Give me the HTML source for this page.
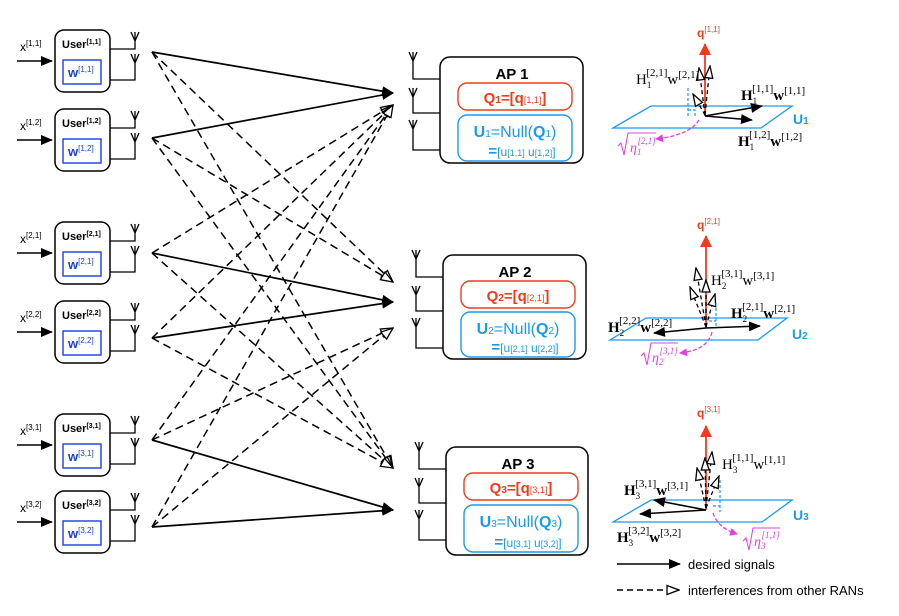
<!DOCTYPE html>
<html><head><meta charset="utf-8"><style>
body{margin:0;background:#fff}
svg{display:block;font-family:"Liberation Sans",sans-serif}
.b{font-weight:bold}
</style></head><body>
<svg width="899" height="616" viewBox="0 0 899 616" xmlns="http://www.w3.org/2000/svg">
<defs>
<marker id="af" markerWidth="12" markerHeight="10" refX="11" refY="5" orient="auto" markerUnits="userSpaceOnUse"><path d="M0,0 L12,5 L0,10 z" fill="#000"/></marker>
<marker id="ah" markerWidth="14" markerHeight="11" refX="13" refY="5.5" orient="auto" markerUnits="userSpaceOnUse"><path d="M1,1 L13,5.5 L1,10 z" fill="#fff" stroke="#000" stroke-width="1.3"/></marker>
<marker id="ah2" markerWidth="14" markerHeight="10" refX="13" refY="5" orient="auto" markerUnits="userSpaceOnUse"><path d="M1,1 L13,5 L1,9 z" fill="#fff" stroke="#000" stroke-width="1.3"/></marker>
<marker id="ar" markerWidth="12" markerHeight="12" refX="11" refY="6" orient="auto" markerUnits="userSpaceOnUse"><path d="M0,0 L12,6 L0,12 z" fill="#f03c1c"/></marker>
<marker id="ap" markerWidth="8" markerHeight="8" refX="7" refY="4" orient="auto" markerUnits="userSpaceOnUse"><path d="M0,0 L8,4 L0,8 z" fill="#e040e0"/></marker>
</defs>

<g stroke="#000" stroke-width="1.7" fill="none">
<line x1="152" y1="52" x2="393" y2="93" marker-end="url(#af)"/>
<line x1="152" y1="138" x2="393" y2="93" marker-end="url(#af)"/>
<line x1="152" y1="253" x2="393" y2="302" marker-end="url(#af)"/>
<line x1="152" y1="338" x2="393" y2="302" marker-end="url(#af)"/>
<line x1="152" y1="440" x2="393" y2="510" marker-end="url(#af)"/>
<line x1="152" y1="527" x2="393" y2="510" marker-end="url(#af)"/>
</g>
<g stroke="#000" stroke-width="1.5" fill="none" stroke-dasharray="8,5">
<line x1="152" y1="52" x2="393" y2="282" marker-end="url(#ah)"/>
<line x1="152" y1="52" x2="393" y2="468" marker-end="url(#ah)"/>
<line x1="152" y1="138" x2="393" y2="282" marker-end="url(#ah)"/>
<line x1="152" y1="138" x2="393" y2="468" marker-end="url(#ah)"/>
<line x1="152" y1="253" x2="393" y2="105" marker-end="url(#ah)"/>
<line x1="152" y1="253" x2="393" y2="468" marker-end="url(#ah)"/>
<line x1="152" y1="338" x2="393" y2="105" marker-end="url(#ah)"/>
<line x1="152" y1="338" x2="393" y2="468" marker-end="url(#ah)"/>
<line x1="152" y1="440" x2="393" y2="105" marker-end="url(#ah)"/>
<line x1="152" y1="440" x2="393" y2="328" marker-end="url(#ah)"/>
<line x1="152" y1="527" x2="393" y2="105" marker-end="url(#ah)"/>
<line x1="152" y1="527" x2="393" y2="328" marker-end="url(#ah)"/>
</g>

<g transform="translate(0,30)">
<line x1="17" y1="31" x2="52" y2="31" stroke="#000" stroke-width="1.5" marker-end="url(#af)"/>
<text x="20" y="21" font-size="12">x<tspan font-size="8" dy="-5">[1,1]</tspan></text>
<rect x="55" y="0" width="55" height="62" rx="9" fill="#fff" stroke="#000" stroke-width="1.5"/>
<text x="62" y="18" font-size="11" class="b">User<tspan font-size="7" dy="-4">[1,1]</tspan></text>
<rect x="63" y="30" width="38" height="24" fill="#fff" stroke="#1a3fe0" stroke-width="1.4"/>
<text x="68" y="47" font-size="13" class="b" fill="#1a3fe0">w<tspan font-size="8" font-weight="normal" dy="-5">[1,1]</tspan></text>
<path d="M110,19 H135 V2 M110,50 H135 V24 M131,2 L135,11 L139,2 M131,24 L135,33 L139,24" stroke="#000" stroke-width="1.3" fill="none"/>
</g>
<g transform="translate(0,109)">
<line x1="17" y1="31" x2="52" y2="31" stroke="#000" stroke-width="1.5" marker-end="url(#af)"/>
<text x="20" y="21" font-size="12">x<tspan font-size="8" dy="-5">[1,2]</tspan></text>
<rect x="55" y="0" width="55" height="62" rx="9" fill="#fff" stroke="#000" stroke-width="1.5"/>
<text x="62" y="18" font-size="11" class="b">User<tspan font-size="7" dy="-4">[1,2]</tspan></text>
<rect x="63" y="30" width="38" height="24" fill="#fff" stroke="#1a3fe0" stroke-width="1.4"/>
<text x="68" y="47" font-size="13" class="b" fill="#1a3fe0">w<tspan font-size="8" font-weight="normal" dy="-5">[1,2]</tspan></text>
<path d="M110,19 H135 V2 M110,50 H135 V24 M131,2 L135,11 L139,2 M131,24 L135,33 L139,24" stroke="#000" stroke-width="1.3" fill="none"/>
</g>
<g transform="translate(0,222)">
<line x1="17" y1="31" x2="52" y2="31" stroke="#000" stroke-width="1.5" marker-end="url(#af)"/>
<text x="20" y="21" font-size="12">x<tspan font-size="8" dy="-5">[2,1]</tspan></text>
<rect x="55" y="0" width="55" height="62" rx="9" fill="#fff" stroke="#000" stroke-width="1.5"/>
<text x="62" y="18" font-size="11" class="b">User<tspan font-size="7" dy="-4">[2,1]</tspan></text>
<rect x="63" y="30" width="38" height="24" fill="#fff" stroke="#1a3fe0" stroke-width="1.4"/>
<text x="68" y="47" font-size="13" class="b" fill="#1a3fe0">w<tspan font-size="8" font-weight="normal" dy="-5">[2,1]</tspan></text>
<path d="M110,19 H135 V2 M110,50 H135 V24 M131,2 L135,11 L139,2 M131,24 L135,33 L139,24" stroke="#000" stroke-width="1.3" fill="none"/>
</g>
<g transform="translate(0,301)">
<line x1="17" y1="31" x2="52" y2="31" stroke="#000" stroke-width="1.5" marker-end="url(#af)"/>
<text x="20" y="21" font-size="12">x<tspan font-size="8" dy="-5">[2,2]</tspan></text>
<rect x="55" y="0" width="55" height="62" rx="9" fill="#fff" stroke="#000" stroke-width="1.5"/>
<text x="62" y="18" font-size="11" class="b">User<tspan font-size="7" dy="-4">[2,2]</tspan></text>
<rect x="63" y="30" width="38" height="24" fill="#fff" stroke="#1a3fe0" stroke-width="1.4"/>
<text x="68" y="47" font-size="13" class="b" fill="#1a3fe0">w<tspan font-size="8" font-weight="normal" dy="-5">[2,2]</tspan></text>
<path d="M110,19 H135 V2 M110,50 H135 V24 M131,2 L135,11 L139,2 M131,24 L135,33 L139,24" stroke="#000" stroke-width="1.3" fill="none"/>
</g>
<g transform="translate(0,414)">
<line x1="17" y1="31" x2="52" y2="31" stroke="#000" stroke-width="1.5" marker-end="url(#af)"/>
<text x="20" y="21" font-size="12">x<tspan font-size="8" dy="-5">[3,1]</tspan></text>
<rect x="55" y="0" width="55" height="62" rx="9" fill="#fff" stroke="#000" stroke-width="1.5"/>
<text x="62" y="18" font-size="11" class="b">User<tspan font-size="7" dy="-4">[3,1]</tspan></text>
<rect x="63" y="30" width="38" height="24" fill="#fff" stroke="#1a3fe0" stroke-width="1.4"/>
<text x="68" y="47" font-size="13" class="b" fill="#1a3fe0">w<tspan font-size="8" font-weight="normal" dy="-5">[3,1]</tspan></text>
<path d="M110,19 H135 V2 M110,50 H135 V24 M131,2 L135,11 L139,2 M131,24 L135,33 L139,24" stroke="#000" stroke-width="1.3" fill="none"/>
</g>
<g transform="translate(0,491)">
<line x1="17" y1="31" x2="52" y2="31" stroke="#000" stroke-width="1.5" marker-end="url(#af)"/>
<text x="20" y="21" font-size="12">x<tspan font-size="8" dy="-5">[3,2]</tspan></text>
<rect x="55" y="0" width="55" height="62" rx="9" fill="#fff" stroke="#000" stroke-width="1.5"/>
<text x="62" y="18" font-size="11" class="b">User<tspan font-size="7" dy="-4">[3,2]</tspan></text>
<rect x="63" y="30" width="38" height="24" fill="#fff" stroke="#1a3fe0" stroke-width="1.4"/>
<text x="68" y="47" font-size="13" class="b" fill="#1a3fe0">w<tspan font-size="8" font-weight="normal" dy="-5">[3,2]</tspan></text>
<path d="M110,19 H135 V2 M110,50 H135 V24 M131,2 L135,11 L139,2 M131,24 L135,33 L139,24" stroke="#000" stroke-width="1.3" fill="none"/>
</g>

<g transform="translate(440,57)">
<path d="M0,22 H-27 V-5 M0,56 H-27 V31 M0,93 H-27 V63 M-31,-5 L-27,4 L-23,-5 M-31,31 L-27,40 L-23,31 M-31,63 L-27,72 L-23,63" stroke="#000" stroke-width="1.3" fill="none"/>
<rect x="0" y="0" width="143" height="106" rx="10" fill="#fff" stroke="#000" stroke-width="1.5"/>
<text x="72" y="22" font-size="15" class="b" text-anchor="middle">AP 1</text>
<rect x="18" y="26" width="114" height="27" rx="9" fill="#fff" stroke="#f03c1c" stroke-width="1.4"/>
<text x="75" y="46" font-size="15" class="b" fill="#f03c1c" text-anchor="middle">Q<tspan font-size="10">1</tspan>=[q<tspan font-size="9" font-weight="normal">[1,1]</tspan>]</text>
<rect x="18" y="58" width="114" height="46" rx="9" fill="#fff" stroke="#1a9af0" stroke-width="1.4"/>
<text x="75" y="80" font-size="16" fill="#1a9af0" text-anchor="middle"><tspan font-weight="bold">U</tspan><tspan font-size="10">1</tspan>=Null(<tspan font-weight="bold">Q</tspan><tspan font-size="10">1</tspan>)</text>
<text x="82" y="99" font-size="12" fill="#1a9af0" text-anchor="middle"><tspan font-size="15" font-weight="bold">=</tspan>[u<tspan font-size="9">[1,1]</tspan> u<tspan font-size="9">[1,2]</tspan>]</text>
</g>
<g transform="translate(443,255)">
<path d="M0,22 H-27 V-5 M0,56 H-27 V31 M0,93 H-27 V63 M-31,-5 L-27,4 L-23,-5 M-31,31 L-27,40 L-23,31 M-31,63 L-27,72 L-23,63" stroke="#000" stroke-width="1.3" fill="none"/>
<rect x="0" y="0" width="143" height="104" rx="10" fill="#fff" stroke="#000" stroke-width="1.5"/>
<text x="72" y="22" font-size="15" class="b" text-anchor="middle">AP 2</text>
<rect x="18" y="26" width="114" height="27" rx="9" fill="#fff" stroke="#f03c1c" stroke-width="1.4"/>
<text x="75" y="46" font-size="15" class="b" fill="#f03c1c" text-anchor="middle">Q<tspan font-size="10">2</tspan>=[q<tspan font-size="9" font-weight="normal">[2,1]</tspan>]</text>
<rect x="18" y="57" width="114" height="45" rx="9" fill="#fff" stroke="#1a9af0" stroke-width="1.4"/>
<text x="75" y="79" font-size="16" fill="#1a9af0" text-anchor="middle"><tspan font-weight="bold">U</tspan><tspan font-size="10">2</tspan>=Null(<tspan font-weight="bold">Q</tspan><tspan font-size="10">2</tspan>)</text>
<text x="82" y="97" font-size="12" fill="#1a9af0" text-anchor="middle"><tspan font-size="15" font-weight="bold">=</tspan>[u<tspan font-size="9">[2,1]</tspan> u<tspan font-size="9">[2,2]</tspan>]</text>
</g>
<g transform="translate(446,447)">
<path d="M0,22 H-27 V-5 M0,56 H-27 V31 M0,93 H-27 V63 M-31,-5 L-27,4 L-23,-5 M-31,31 L-27,40 L-23,31 M-31,63 L-27,72 L-23,63" stroke="#000" stroke-width="1.3" fill="none"/>
<rect x="0" y="0" width="142" height="108" rx="10" fill="#fff" stroke="#000" stroke-width="1.5"/>
<text x="72" y="22" font-size="15" class="b" text-anchor="middle">AP 3</text>
<rect x="18" y="26" width="114" height="27" rx="9" fill="#fff" stroke="#f03c1c" stroke-width="1.4"/>
<text x="75" y="46" font-size="15" class="b" fill="#f03c1c" text-anchor="middle">Q<tspan font-size="10">3</tspan>=[q<tspan font-size="9" font-weight="normal">[3,1]</tspan>]</text>
<rect x="18" y="58" width="114" height="47" rx="9" fill="#fff" stroke="#1a9af0" stroke-width="1.4"/>
<text x="75" y="80" font-size="16" fill="#1a9af0" text-anchor="middle"><tspan font-weight="bold">U</tspan><tspan font-size="10">3</tspan>=Null(<tspan font-weight="bold">Q</tspan><tspan font-size="10">3</tspan>)</text>
<text x="82" y="100" font-size="12" fill="#1a9af0" text-anchor="middle"><tspan font-size="15" font-weight="bold">=</tspan>[u<tspan font-size="9">[3,1]</tspan> u<tspan font-size="9">[3,2]</tspan>]</text>
</g>

<!-- Panel 1 -->
<g>
<polygon points="613,128 651,106 792,106 761,128" fill="none" stroke="#1a9af0" stroke-width="1.3"/>
<text x="793" y="124" font-size="14" class="b" fill="#1a9af0">U<tspan font-size="10">1</tspan></text>
<line x1="705" y1="116" x2="705" y2="44" stroke="#f03c1c" stroke-width="1.8" marker-end="url(#ar)"/>
<text x="697" y="37" font-size="12" class="b" fill="#f03c1c">q<tspan font-size="8" font-weight="normal" dy="-5">[1,1]</tspan></text>
<g stroke="#000" stroke-width="1.3" stroke-dasharray="4,3" fill="none">
<line x1="705" y1="115" x2="699" y2="68" marker-end="url(#ah2)"/>
<line x1="705" y1="115" x2="710" y2="66" marker-end="url(#ah2)"/>
<line x1="705" y1="115" x2="693" y2="94" marker-end="url(#ah2)"/>
</g>
<path d="M688,88 V117 M688,110 h7 v7" stroke="#1a9af0" stroke-width="1.2" stroke-dasharray="3,2" fill="none"/>
<line x1="705" y1="116" x2="762" y2="106" stroke="#000" stroke-width="1.6" marker-end="url(#af)"/>
<line x1="705" y1="116" x2="752" y2="120" stroke="#000" stroke-width="1.6" marker-end="url(#af)"/>
<path d="M699,120 Q690,135 656,139" stroke="#e040e0" stroke-width="1.3" stroke-dasharray="4,2" fill="none" marker-end="url(#ap)"/>
<text x="636" y="84" font-family="Liberation Serif,serif" font-size="15">H<tspan font-size="9" dy="4">1</tspan><tspan font-size="11" dx="-5" dy="-12">[2,1]</tspan><tspan dy="8">w</tspan><tspan font-size="11" dy="-6">[2,1]</tspan></text>
<text x="741" y="100" font-family="Liberation Serif,serif" font-size="15" class="b">H<tspan font-size="9" font-weight="normal" dy="4">1</tspan><tspan font-size="11" font-weight="normal" dx="-5" dy="-12">[1,1]</tspan><tspan dy="8">w</tspan><tspan font-size="11" font-weight="normal" dy="-6">[1,1]</tspan></text>
<text x="738" y="146" font-family="Liberation Serif,serif" font-size="15" class="b">H<tspan font-size="9" font-weight="normal" dy="4">1</tspan><tspan font-size="11" font-weight="normal" dx="-5" dy="-12">[1,2]</tspan><tspan dy="8">w</tspan><tspan font-size="11" font-weight="normal" dy="-6">[1,2]</tspan></text>
<path d="M618,146 l3,-3 l3,12 l4,-22 h28" stroke="#e040e0" fill="none" stroke-width="1"/>
<text x="630" y="152" font-family="Liberation Serif,serif" font-style="italic" font-size="14" fill="#e040e0">η<tspan font-size="9" dy="3">1</tspan><tspan font-size="9" dx="-4" dy="-11">[2,1]</tspan></text>
</g>

<!-- Panel 2 -->
<g>
<polygon points="610,340 646,318 787,318 758,340" fill="none" stroke="#1a9af0" stroke-width="1.3"/>
<text x="792" y="339" font-size="14" class="b" fill="#1a9af0">U<tspan font-size="10">2</tspan></text>
<line x1="706" y1="328" x2="706" y2="236" stroke="#f03c1c" stroke-width="1.8" marker-end="url(#ar)"/>
<text x="697" y="229" font-size="12" class="b" fill="#f03c1c">q<tspan font-size="8" font-weight="normal" dy="-5">[2,1]</tspan></text>
<g stroke="#000" stroke-width="1.3" stroke-dasharray="4,3" fill="none">
<line x1="706" y1="327" x2="696" y2="268" marker-end="url(#ah2)"/>
<line x1="706" y1="327" x2="706" y2="280" marker-end="url(#ah2)"/>
<line x1="706" y1="327" x2="690" y2="287" marker-end="url(#ah2)"/>
<line x1="706" y1="327" x2="715" y2="294" marker-end="url(#ah2)"/>
</g>
<path d="M716,303 V328 M709,321 h7" stroke="#1a9af0" stroke-width="1.2" stroke-dasharray="3,2" fill="none"/>
<line x1="706" y1="328" x2="760" y2="326" stroke="#000" stroke-width="1.6" marker-end="url(#af)"/>
<line x1="706" y1="328" x2="654" y2="333" stroke="#000" stroke-width="1.6" marker-end="url(#af)"/>
<path d="M712,332 Q708,350 680,353" stroke="#e040e0" stroke-width="1.3" stroke-dasharray="4,2" fill="none" marker-end="url(#ap)"/>
<text x="711" y="285" font-family="Liberation Serif,serif" font-size="15">H<tspan font-size="9" dy="4">2</tspan><tspan font-size="11" dx="-5" dy="-12">[3,1]</tspan><tspan dy="8">w</tspan><tspan font-size="11" dy="-6">[3,1]</tspan></text>
<text x="731" y="318" font-family="Liberation Serif,serif" font-size="15" class="b">H<tspan font-size="9" font-weight="normal" dy="4">2</tspan><tspan font-size="11" font-weight="normal" dx="-5" dy="-12">[2,1]</tspan><tspan dy="8">w</tspan><tspan font-size="11" font-weight="normal" dy="-6">[2,1]</tspan></text>
<text x="608" y="332" font-family="Liberation Serif,serif" font-size="15" class="b">H<tspan font-size="9" font-weight="normal" dy="4">2</tspan><tspan font-size="11" font-weight="normal" dx="-5" dy="-12">[2,2]</tspan><tspan dy="8">w</tspan><tspan font-size="11" font-weight="normal" dy="-6">[2,2]</tspan></text>
<path d="M641,356 l3,-3 l3,12 l4,-22 h27" stroke="#e040e0" fill="none" stroke-width="1"/>
<text x="652" y="362" font-family="Liberation Serif,serif" font-style="italic" font-size="14" fill="#e040e0">η<tspan font-size="9" dy="3">2</tspan><tspan font-size="9" dx="-4" dy="-11">[3,1]</tspan></text>
</g>

<!-- Panel 3 -->
<g>
<polygon points="613,522 651,500 792,500 762,522" fill="none" stroke="#1a9af0" stroke-width="1.3"/>
<text x="793" y="520" font-size="14" class="b" fill="#1a9af0">U<tspan font-size="10">3</tspan></text>
<line x1="706" y1="510" x2="706" y2="426" stroke="#f03c1c" stroke-width="1.8" marker-end="url(#ar)"/>
<text x="697" y="417" font-size="12" class="b" fill="#f03c1c">q<tspan font-size="8" font-weight="normal" dy="-5">[3,1]</tspan></text>
<g stroke="#000" stroke-width="1.3" stroke-dasharray="4,3" fill="none">
<line x1="706" y1="508" x2="712" y2="452" marker-end="url(#ah2)"/>
<line x1="706" y1="508" x2="705" y2="458" marker-end="url(#ah2)"/>
<line x1="706" y1="508" x2="697" y2="468" marker-end="url(#ah2)"/>
<line x1="706" y1="508" x2="719" y2="476" marker-end="url(#ah2)"/>
</g>
<path d="M720,480 V512 M713,506 h7" stroke="#1a9af0" stroke-width="1.2" stroke-dasharray="3,2" fill="none"/>
<line x1="706" y1="510" x2="654" y2="500" stroke="#000" stroke-width="1.6" marker-end="url(#af)"/>
<line x1="706" y1="510" x2="640" y2="514" stroke="#000" stroke-width="1.6" marker-end="url(#af)"/>
<path d="M713,513 Q718,528 737,534" stroke="#e040e0" stroke-width="1.3" stroke-dasharray="4,2" fill="none" marker-end="url(#ap)"/>
<text x="722" y="469" font-family="Liberation Serif,serif" font-size="15">H<tspan font-size="9" dy="4">3</tspan><tspan font-size="11" dx="-5" dy="-12">[1,1]</tspan><tspan dy="8">w</tspan><tspan font-size="11" dy="-6">[1,1]</tspan></text>
<text x="624" y="495" font-family="Liberation Serif,serif" font-size="15" class="b">H<tspan font-size="9" font-weight="normal" dy="4">3</tspan><tspan font-size="11" font-weight="normal" dx="-5" dy="-12">[3,1]</tspan><tspan dy="8">w</tspan><tspan font-size="11" font-weight="normal" dy="-6">[3,1]</tspan></text>
<text x="617" y="542" font-family="Liberation Serif,serif" font-size="15" class="b">H<tspan font-size="9" font-weight="normal" dy="4">3</tspan><tspan font-size="11" font-weight="normal" dx="-5" dy="-12">[3,2]</tspan><tspan dy="8">w</tspan><tspan font-size="11" font-weight="normal" dy="-6">[3,2]</tspan></text>
<path d="M743,541 l3,-3 l3,12 l4,-22 h27" stroke="#e040e0" fill="none" stroke-width="1"/>
<text x="754" y="546" font-family="Liberation Serif,serif" font-style="italic" font-size="14" fill="#e040e0">η<tspan font-size="9" dy="3">3</tspan><tspan font-size="9" dx="-4" dy="-11">[1,1]</tspan></text>
</g>

<line x1="617" y1="564" x2="680" y2="564" stroke="#000" stroke-width="1.6" marker-end="url(#af)"/>
<text x="688" y="569" font-size="13">desired signals</text>
<line x1="617" y1="590" x2="679" y2="590" stroke="#000" stroke-width="1.4" stroke-dasharray="6,4" marker-end="url(#ah)"/>
<text x="688" y="595" font-size="13">interferences from other RANs</text>
</svg>
</body></html>
